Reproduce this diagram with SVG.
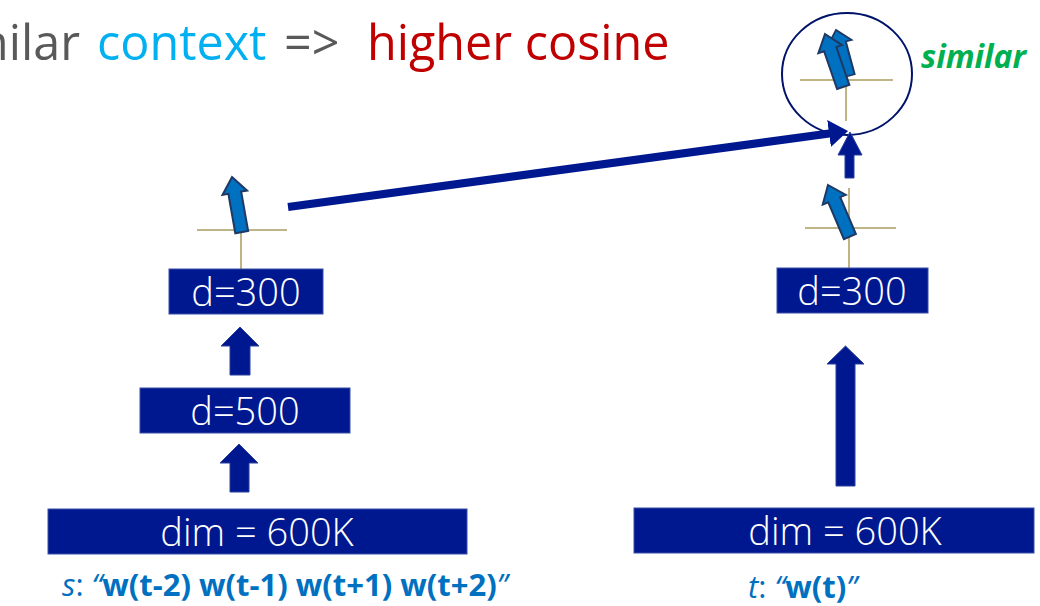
<svg xmlns="http://www.w3.org/2000/svg" width="1040" height="606" viewBox="0 0 1040 606">
<style>
.title{font-family:"Open Sans","Liberation Sans",sans-serif;font-size:48.5px;}
.box{fill:#00188F;stroke:#3A4FA8;stroke-width:1;}
.btxt{font-family:"Open Sans","Liberation Sans",sans-serif;font-weight:300;font-size:38px;fill:#FFFFFF;text-anchor:middle;}
.barrow{fill:#00188F;stroke:#2A3E9E;stroke-width:1;}
.varrow{fill:#0070C0;stroke:#1F3864;stroke-width:2;stroke-linejoin:miter;}
.axis{stroke:#A89B5E;stroke-width:1.5;fill:none;}
.lbl{font-family:"Open Sans","Liberation Sans",sans-serif;font-size:31px;fill:#0070C0;}
</style>
<defs>
<polygon id="va" points="0,0 12.5,16 6.5,16 6.5,56 -6.5,56 -6.5,16 -12.5,16"/>
<marker id="ah" markerWidth="2.4" markerHeight="3.4" refX="0.5" refY="1.7" orient="auto" markerUnits="strokeWidth" viewBox="0 0 2.4 3.4">
<path d="M0,0 L2.4,1.7 L0,3.4 Z" fill="#00188F"/>
</marker>
</defs>

<g id="title">
<text class="title" x="80" y="60" text-anchor="end" fill="#595959">similar</text>
<text class="title" x="97" y="60" fill="#00B0F0">context</text>
<text class="title" x="284" y="60" fill="#595959">=&gt;</text>
<text class="title" x="367" y="60" fill="#C00000">higher cosine</text>
</g>

<g id="similar-node">
<ellipse cx="847" cy="74" rx="65" ry="61" fill="none" stroke="#00136B" stroke-width="2"/>
<line class="axis" x1="800" y1="80" x2="893" y2="80"/>
<line class="axis" x1="846" y1="40" x2="846" y2="121"/>
<use href="#va" class="varrow" transform="translate(836,30) rotate(-15) scale(1,0.85)"/>
<use href="#va" class="varrow" transform="translate(825,34) rotate(-19)"/>
<text x="921" y="68" font-family="'Open Sans','Liberation Sans',sans-serif" font-size="32" font-weight="bold" font-style="italic" fill="#00B050">similar</text>
</g>

<g id="left-vector">
<line class="axis" x1="197" y1="230" x2="287" y2="230"/>
<line class="axis" x1="241" y1="230" x2="241" y2="269"/>
<use href="#va" class="varrow" transform="translate(232,177) rotate(-10)"/>
</g>

<g id="right-vector">
<line class="axis" x1="805" y1="228" x2="896" y2="228"/>
<line class="axis" x1="849" y1="188" x2="849" y2="268"/>
<use href="#va" class="varrow" transform="translate(828,185) rotate(-23)"/>
</g>

<g id="left-d300">
<rect class="box" x="169" y="269" width="154" height="45"/>
<text class="btxt" x="246" y="306">d=300</text>
</g>
<g id="left-d500">
<rect class="box" x="140" y="388" width="210" height="45"/>
<text class="btxt" x="245" y="425">d=500</text>
</g>
<g id="left-dim">
<rect class="box" x="48" y="509" width="419" height="45"/>
<text class="btxt" x="257" y="546">dim = 600K</text>
</g>
<g id="right-d300">
<rect class="box" x="777" y="268" width="151" height="45"/>
<text class="btxt" x="852" y="305">d=300</text>
</g>
<g id="right-dim">
<rect class="box" x="634" y="508" width="400" height="45"/>
<text class="btxt" x="845" y="545">dim = 600K</text>
</g>

<g id="label-s">
<text class="lbl" x="62" y="596"><tspan font-style="italic">s</tspan>: <tspan font-style="italic">“</tspan><tspan font-weight="bold">w(t-2) w(t-1) w(t+1) w(t+2)</tspan><tspan font-style="italic">”</tspan></text>
</g>
<g id="label-t">
<text class="lbl" x="748" y="598"><tspan font-style="italic">t</tspan>: <tspan font-style="italic">“</tspan><tspan font-weight="bold">w(t)</tspan><tspan font-style="italic">”</tspan></text>
</g>

<g id="connectors">
<polygon class="barrow" points="240,327 259,346 250,346 250,375 230,375 230,346 221,346"/>
<polygon class="barrow" points="239,444 258,463 249,463 249,492 230,492 230,463 220,463"/>
<polygon class="barrow" points="845.5,346 864,364 855,364 855,486 836,486 836,364 827,364"/>
<polygon class="barrow" points="850,132 862,155 854,155 854,178 845,178 845,155 838,155"/>
<line x1="288" y1="207" x2="833" y2="133" stroke="#00188F" stroke-width="8" marker-end="url(#ah)"/>
</g>
</svg>
